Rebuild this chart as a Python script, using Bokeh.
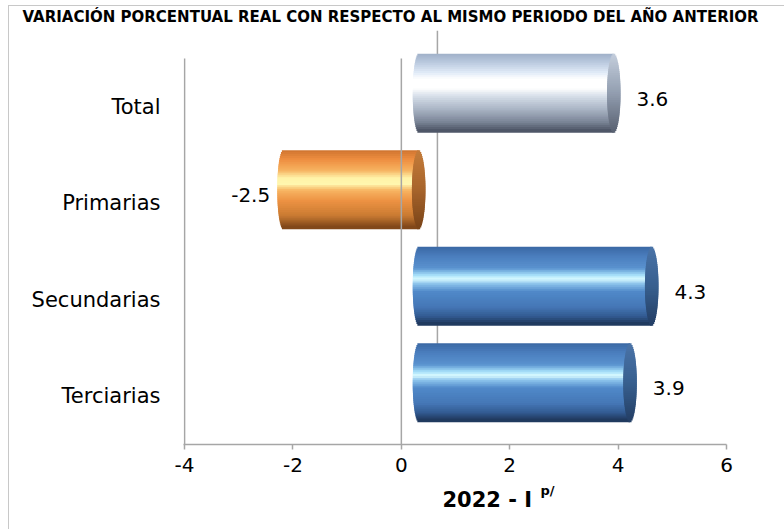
import numpy as np
from bokeh.plotting import figure
from bokeh.models import (ColumnDataSource, Range1d, FixedTicker, Title,
                          CDSView, BooleanFilter, InlineStyleSheet)
from bokeh.transform import dodge
from bokeh.embed import file_html
from bokeh.resources import INLINE
from bokeh.core.properties import value

# ---------------- data ----------------
categories = ["Total", "Primarias", "Secundarias", "Terciarias"]
values = [3.6, -2.5, 4.3, 3.9]
x_ticks = [-4, -2, 0, 2, 4, 6]
x_title = "2022 - I"
x_title_sup = "p/"
chart_title = "VARIACIÓN PORCENTUAL REAL CON RESPECTO AL MISMO PERIODO DEL AÑO ANTERIOR"

# ---------------- style ----------------
bar_styles = ["silver", "orange", "blue", "blue"]
FONT = "DejaVu Sans"
W, H = 784, 529
FL, FR, FT, FB = 183, 726, 30, 444          # frame in canvas px
X0, X1 = -4.02, 6.0
n = len(categories)
pos = [float(n - 1 - i) for i in range(n)]  # Total at top
Y0 = -0.5
Y1 = Y0 + (FB - FT) / 96.5

def yd(py):
    return Y0 + (FB - py) * (Y1 - Y0) / (FB - FT)

BODY = {
    "blue": [(0, "#3a68a3"), (0.12, "#4a7dbd"), (0.28, "#5a92cf"), (0.37, "#a8e2fb"),
             (0.42, "#d8f9ff"), (0.48, "#8cc4ec"), (0.58, "#5089c9"), (0.78, "#4577b6"),
             (0.9, "#325b92"), (1, "#1e3558")],
    "silver": [(0, "#9fb0c8"), (0.12, "#bccbe0"), (0.25, "#e2ecf8"), (0.33, "#ffffff"),
               (0.45, "#ffffff"), (0.55, "#d6dee9"), (0.72, "#a9b4c4"), (0.88, "#7c8698"),
               (1, "#4a5262")],
    "orange": [(0, "#cf7430"), (0.12, "#ee8e40"), (0.26, "#f6b260"), (0.36, "#fff3a8"),
               (0.44, "#fff6ae"), (0.52, "#f7b462"), (0.66, "#ec9142"), (0.85, "#c97a32"),
               (1, "#7a4418")],
}
CAP = {
    "blue": [(0, "#4a73a8"), (0.5, "#38608f"), (1, "#243f66")],
    "silver": [(0, "#c4cedc"), (0.5, "#939fb1"), (1, "#5a6272")],
    "orange": [(0, "#c47c3a"), (0.5, "#a8652c"), (1, "#7a4418")],
}

def hex2rgb(h):
    return tuple(int(h[i:i + 2], 16) for i in (1, 3, 5))

def grad(stops, t):
    for (t0, c0), (t1, c1) in zip(stops[:-1], stops[1:]):
        if t0 <= t <= t1:
            f = 0 if t1 == t0 else (t - t0) / (t1 - t0)
            a, b = hex2rgb(c0), hex2rgb(c1)
            return "#%02x%02x%02x" % tuple(int(round(a[j] + (b[j] - a[j]) * f)) for j in range(3))
    return stops[-1][1]

NSTRIP = 40
H_BAR = 0.8
Y_OFF = 0.14
X_OFF = 0.32
BULGE = 0.11
CAP_A = 0.125

vals = np.array(values)
data = dict(pos=pos, val=values, start=list(np.minimum(vals, 0)),
            end=list(np.maximum(vals, 0)), lab=[f"{v:.1f}" for v in values])
for k in range(NSTRIP):
    t = (k + 0.5) / NSTRIP
    data[f"b{k}"] = [grad(BODY[s], t) for s in bar_styles]
    data[f"c{k}"] = [grad(CAP[s], t) for s in bar_styles]
src = ColumnDataSource(data)

p = figure(width=W, height=H, output_backend="svg", toolbar_location=None,
           x_range=Range1d(X0, X1), y_range=Range1d(Y0, Y1),
           min_border_left=FL, min_border_right=W - FR,
           min_border_top=FT, min_border_bottom=H - FB)
p.outline_line_color = None
p.grid.visible = False
p.background_fill_color = "white"
p.border_fill_color = "white"
p.stylesheets = [InlineStyleSheet(css=(
    ":host{position:relative;}"
    ":host::after{content:'';position:absolute;left:8px;top:5px;right:0;bottom:0;"
    "border-left:1.5px solid #c8c8c8;border-top:1.5px solid #c8c8c8;pointer-events:none;}"))]

# chart title
p.title.text = chart_title
p.title.text_font = FONT
p.title.text_font_size = "15px"
p.title.text_font_style = "bold"
p.title.text_color = "black"
p.title.align = "left"
p.title.offset = 22 - FL
p.title.standoff = 10

GRAY = "#a6a6a6"

# back-wall zero line
p.segment(x0=[0 + 2.08 * X_OFF], y0=[Y1], x1=[0 + 2.08 * X_OFF], y1=[yd(416)],
          line_color=GRAY, line_width=1.5)

# cylinders: body strips then caps
for k in range(NSTRIP):
    t = (k + 0.5) / NSTRIP
    yo = Y_OFF + H_BAR / 2 - t * H_BAR
    s = np.sqrt(max(0.0, 1 - (2 * t - 1) ** 2))
    p.hbar(y=dodge("pos", yo), left=dodge("start", X_OFF - BULGE * s),
           right=dodge("end", X_OFF), height=H_BAR / NSTRIP * 2.0,
           fill_color=f"b{k}", line_color=None, source=src)
for k in range(NSTRIP):
    t = (k + 0.5) / NSTRIP
    yo = Y_OFF + H_BAR / 2 - t * H_BAR
    s = np.sqrt(max(0.0, 1 - (2 * t - 1) ** 2))
    p.hbar(y=dodge("pos", yo), left=dodge("end", X_OFF - CAP_A * s),
           right=dodge("end", X_OFF + CAP_A * s), height=H_BAR / NSTRIP * 2.0,
           fill_color=f"c{k}", line_color=None, source=src)

# front zero line and left axis line
p.segment(x0=[0], y0=[Y0], x1=[0], y1=[n - 0.5], line_color=GRAY, line_width=1.5)
p.segment(x0=[-4], y0=[Y0], x1=[-4], y1=[n - 0.5], line_color=GRAY, line_width=1.5)

# value labels
pos_view = CDSView(filter=BooleanFilter([v >= 0 for v in values]))
neg_view = CDSView(filter=BooleanFilter([v < 0 for v in values]))
p.text(x=dodge("val", X_OFF + 0.42), y=dodge("pos", 0.085), text="lab", source=src,
       view=pos_view, text_align="left", text_baseline="middle",
       text_font=value(FONT), text_font_size="20px", text_color="black")
p.text(x=dodge("val", X_OFF - 0.24), y=dodge("pos", 0.085), text="lab", source=src,
       view=neg_view, text_align="right", text_baseline="middle",
       text_font=value(FONT), text_font_size="20px", text_color="black")

# axes
xa = p.xaxis[0]
xa.ticker = FixedTicker(ticks=x_ticks)
xa.major_label_overrides = {float(t): str(t) for t in x_ticks}
xa.axis_line_color = GRAY
xa.axis_line_width = 1.5
xa.major_tick_line_color = GRAY
xa.major_tick_line_width = 1.5
xa.major_tick_in = 0
xa.major_tick_out = 5
xa.minor_tick_line_color = None
xa.major_label_text_font = FONT
xa.major_label_text_font_size = "20px"
xa.major_label_text_color = "black"
xa.major_label_standoff = 8

ya = p.yaxis[0]
ya.ticker = FixedTicker(ticks=pos)
ya.major_label_overrides = {pv: c for pv, c in zip(pos, categories)}
ya.axis_line_color = None
ya.major_tick_line_color = None
ya.minor_tick_line_color = None
ya.major_label_text_font = FONT
ya.major_label_text_font_size = "21px"
ya.major_label_text_color = "black"
ya.major_label_standoff = 17

# axis title with superscript (two stacked titles below)
t_sup = Title(text=x_title_sup, align="left", offset=540 - FL, text_font=FONT,
              text_font_size="13px", text_font_style="bold", text_color="black",
              standoff=13, text_line_height=0.2)
t_main = Title(text=x_title, align="left", offset=442 - FL, text_font=FONT,
               text_font_size="21px", text_font_style="bold", text_color="black",
               standoff=-34, vertical_align="top")
p.add_layout(t_sup, "below")
p.add_layout(t_main, "below")

open("out.html", "w").write(file_html(p, INLINE))
